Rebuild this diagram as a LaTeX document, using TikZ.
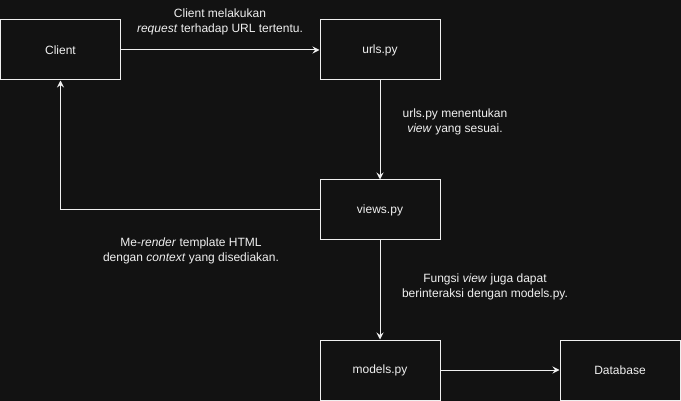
\documentclass[tikz,border=0pt]{standalone}
\usepackage{fontspec}
\setmainfont{Liberation Sans}
\usetikzlibrary{arrows.meta}
\definecolor{bg}{HTML}{121212}
\definecolor{fg}{HTML}{F0F0F0}
\begin{document}
\begin{tikzpicture}[x=1pt,y=-1pt,
  box/.style={draw=fg,fill=bg,line width=1pt,minimum width=120pt,minimum height=60pt,inner sep=0pt,text=fg,font=\fontsize{12}{14}\selectfont},
  conn/.style={draw=fg,line width=1pt,-{Stealth[length=7pt,width=7pt,inset=2.5pt]}},
  lbl/.style={text=fg,align=center,font=\fontsize{12}{15}\selectfont,inner sep=0pt}]
\fill[bg] (0,0) rectangle (681,401);
\useasboundingbox (0,0) rectangle (681,401);
\node[box] (client) at (60.5,50) {Client};
\node[box] (urls) at (380,50) {urls.py};
\node[box] (views) at (380,210) {views.py};
\node[box] (models) at (380,370) {models.py};
\node[box] (db) at (620,370) {Database};
\coordinate (corner) at (60.5,210);
\draw[conn] (client.east) -- (urls.west);
\draw[conn] (urls.south) -- (views.north);
\draw[conn] (views.west) -- (corner) -- (client.south);
\draw[conn] (views.south) -- (models.north);
\draw[conn] (models.east) -- (db.west);
\node[lbl] (l1) at (220,22) {Client melakukan\\\textit{request} terhadap URL tertentu.};
\node[lbl] (l2) at (455,122) {urls.py menentukan\\\textit{view} yang sesuai.};
\node[lbl] (l3) at (191,251) {Me-\textit{render} template HTML\\dengan \textit{context} yang disediakan.};
\node[lbl] (l4) at (485,287) {Fungsi \textit{view} juga dapat\\berinteraksi dengan models.py.};
\end{tikzpicture}
\end{document}
